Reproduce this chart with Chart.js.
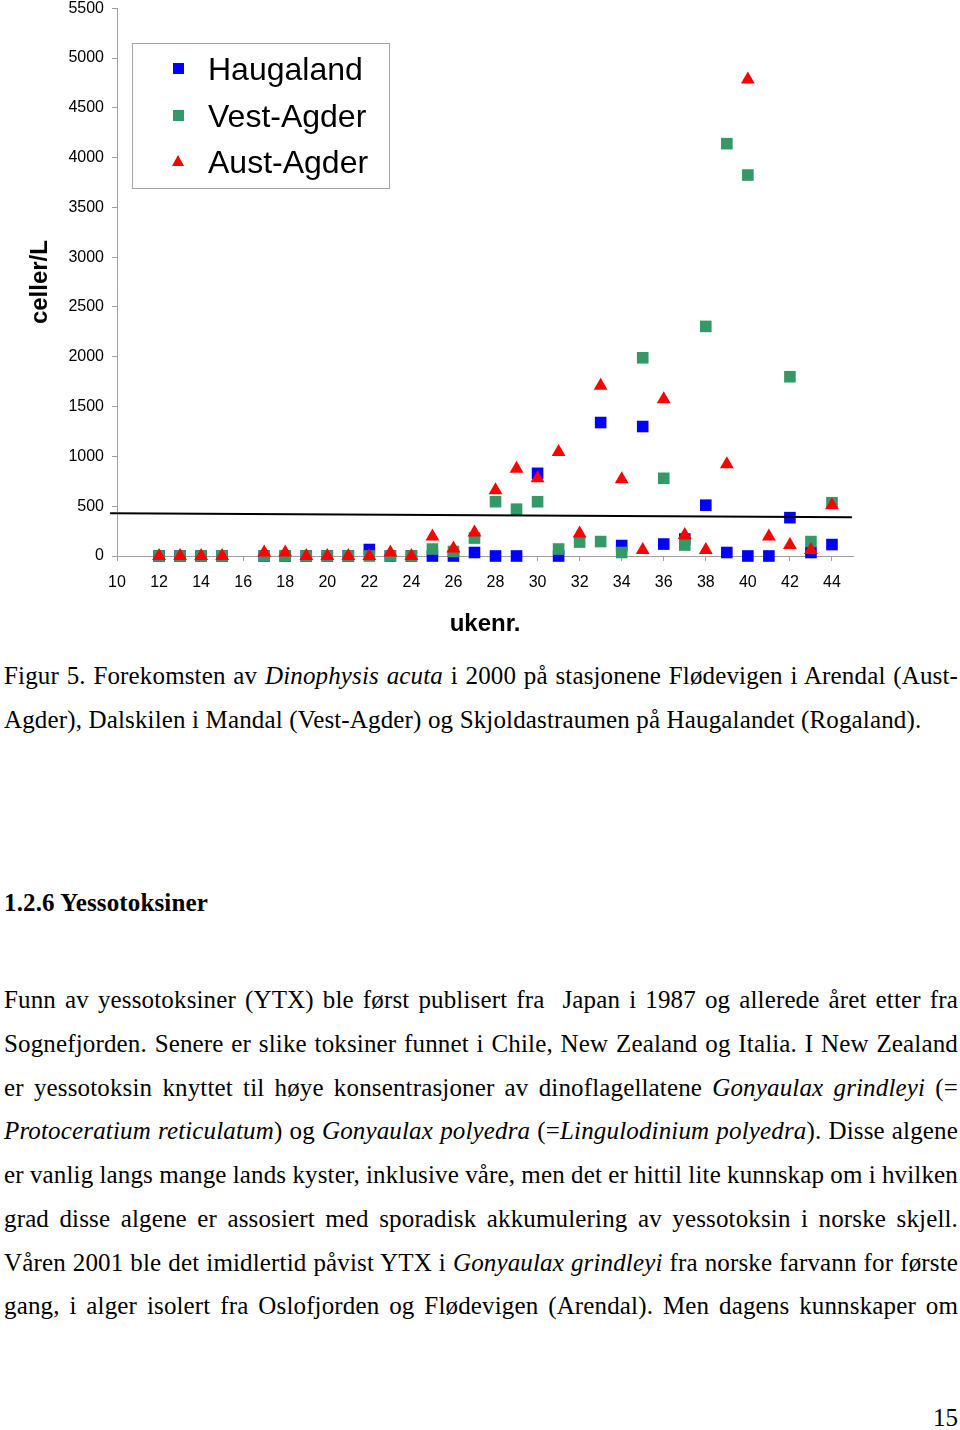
<!DOCTYPE html>
<html>
<head>
<meta charset="utf-8">
<script src="https://cdn.jsdelivr.net/npm/chart.js@4.4.1/dist/chart.umd.min.js"></script>
<style>
  body { margin: 0; background: #fff; width: 960px; height: 1430px; position: relative; overflow: hidden; }
  #chart-wrap { position: absolute; left: 0; top: 0; width: 960px; height: 645px; }
  .legend { position: absolute; left: 132px; top: 43px; width: 256px; height: 144px; border: 1px solid #a6a6a6;
            font-family: "Liberation Sans", Arial, sans-serif; font-size: 32px; color: #000; }
  .legend .row { position: absolute; left: 0; height: 40px; line-height: 40px; }
  .legend .row span { position: absolute; left: 75px; white-space: nowrap; }
  .mk-sq { position: absolute; left: 40px; top: 14px; width: 11px; height: 11px; }
  .mk-tri { position: absolute; left: 39px; top: 13px; width: 0; height: 0;
            border-left: 6px solid transparent; border-right: 6px solid transparent; border-bottom: 11px solid #ff0000; }
  .txt { position: absolute; left: 4px; width: 954px; font-family: "Liberation Serif", "Times New Roman", serif;
         font-size: 25px; letter-spacing: 0.15px; color: #000; line-height: 43.75px; }
  .j { text-align: justify; text-align-last: justify; white-space: nowrap; word-spacing: -2px; }
  .l { white-space: nowrap; }
  .head { font-weight: bold; }
  .pnum { position: absolute; right: 2px; top: 1396px; font-family: "Liberation Serif", "Times New Roman", serif; font-size: 25px; line-height: 44px; }
</style>
</head>
<body>
<div id="chart-wrap">
  <canvas id="chart" width="960" height="645"></canvas>
  <div class="legend">
    <div class="row" style="top:5px"><div class="mk-sq" style="background:#0000ff"></div><span>Haugaland</span></div>
    <div class="row" style="top:52px"><div class="mk-sq" style="background:#339966"></div><span>Vest-Agder</span></div>
    <div class="row" style="top:98px"><div class="mk-tri"></div><span>Aust-Agder</span></div>
  </div>
</div>

<div class="txt" style="top:654px">
  <div class="j">Figur 5. Forekomsten av <i>Dinophysis acuta</i> i 2000 på stasjonene Flødevigen i Arendal (Aust-</div>
  <div class="l">Agder), Dalskilen i Mandal (Vest-Agder) og Skjoldastraumen på Haugalandet (Rogaland).</div>
</div>

<div class="txt head" style="top:881px">1.2.6 Yessotoksiner</div>

<div class="txt" style="top:978px">
  <div class="j">Funn av yessotoksiner (YTX) ble først publisert fra &nbsp;Japan i 1987 og allerede året etter fra</div>
  <div class="j">Sognefjorden. Senere er slike toksiner funnet i Chile, New Zealand og Italia. I New Zealand</div>
  <div class="j">er yessotoksin knyttet til høye konsentrasjoner av dinoflagellatene <i>Gonyaulax grindleyi</i> (=</div>
  <div class="j"><i>Protoceratium reticulatum</i>) og <i>Gonyaulax polyedra</i> (=<i>Lingulodinium polyedra</i>). Disse algene</div>
  <div class="j">er vanlig langs mange lands kyster, inklusive våre, men det er hittil lite kunnskap om i hvilken</div>
  <div class="j">grad disse algene er assosiert med sporadisk akkumulering av yessotoksin i norske skjell.</div>
  <div class="j">Våren 2001 ble det imidlertid påvist YTX i <i>Gonyaulax grindleyi</i> fra norske farvann for første</div>
  <div class="j">gang, i alger isolert fra Oslofjorden og Flødevigen (Arendal). Men dagens kunnskaper om</div>
</div>

<div class="pnum">15</div>

<script>
// week numbers (ukenr.) 12..44
const weeks = [12, 13, 14, 15, 16, 17, 18, 19, 20, 21, 22, 23, 24, 25, 26, 27, 28,
               29, 30, 31, 32, 33, 34, 35, 36, 37, 38, 39, 40, 41, 42, 43, 44];

// celler/L per station, null = no sample
const haugaland = [0, 0, 0, 0, null, 0, 0, 0, 0, 0, 65, 0, 0, 0, 0, 35, 0,
                   0, 830, 0, null, 1340, 105, 1300, 120, 170, 510, 35, 0, 0, 385, 35, 115];
const vestAgder = [0, 0, 0, 0, null, 0, 0, 0, 0, 0, 0, 0, 0, 70, 45, 180, 545,
                   470, 545, 70, 140, 145, 35, 1990, 780, 110, 2305, 4140, 3825, null, 1800, 145, 535];
const austAgder = [0, 0, 0, 0, null, 35, 35, 0, 0, 0, 0, 35, 0, 195, 75, 235, 660,
                   875, 780, 1045, 225, 1710, 770, 60, 1575, 210, 60, 920, 4785, 195, 110, 60, 510];

// the stray black line across the plot
const lineX = [9.67, 44.95];
const lineY = [430, 390];

const xTicksFrom = 10, xMax = 45, xStep = 2;
const yMax = 5500, yStep = 500;

function toPoints(vals) {
  const pts = [];
  weeks.forEach((w, i) => {
    if (vals[i] !== null) pts.push({ x: w, y: vals[i] });
  });
  return pts;
}

const axisGrey = '#a0a0a0';
const sans = '"Liberation Sans", Arial, sans-serif';

// lower "order" is drawn on top: Aust-Agder over Vest-Agder over Haugaland
new Chart(document.getElementById('chart'), {
  type: 'scatter',
  data: {
    datasets: [
      {
        label: 'Haugaland',
        data: toPoints(haugaland),
        order: 3,
        clip: false,
        pointStyle: 'rect',
        pointRadius: 8.2,
        backgroundColor: '#0000ff',
        borderColor: '#0000ff',
        borderWidth: 0
      },
      {
        label: 'Vest-Agder',
        data: toPoints(vestAgder),
        order: 2,
        clip: false,
        pointStyle: 'rect',
        pointRadius: 8.2,
        backgroundColor: '#339966',
        borderColor: '#339966',
        borderWidth: 0
      },
      {
        label: 'Aust-Agder',
        data: toPoints(austAgder),
        order: 1,
        clip: false,
        pointStyle: 'triangle',
        pointRadius: 8,
        backgroundColor: '#ff0000',
        borderColor: '#ff0000',
        borderWidth: 0
      },
      {
        label: 'line',
        data: lineX.map((x, i) => ({ x: x, y: lineY[i] })),
        order: 0,
        showLine: true,
        borderColor: '#000',
        borderWidth: 2,
        pointRadius: 0,
        clip: false
      }
    ]
  },
  options: {
    responsive: false,
    animation: false,
    layout: { padding: { top: 7, right: 107, left: 0, bottom: 0 } },
    plugins: { legend: { display: false }, tooltip: { enabled: false } },
    scales: {
      x: {
        type: 'linear',
        min: xTicksFrom,
        max: xMax,
        afterFit: s => { s.height = 89; },
        ticks: {
          stepSize: xStep,
          includeBounds: false,
          padding: 14,
          color: '#000',
          font: { family: sans, size: 16, lineHeight: 1 },
          callback: v => String(v)
        },
        grid: { drawOnChartArea: false, color: axisGrey, tickLength: 5 },
        border: { color: axisGrey },
        title: {
          display: true,
          text: 'ukenr.',
          color: '#000',
          font: { family: sans, size: 24, weight: 'bold', lineHeight: 1.2 },
          padding: { top: 0, bottom: 6 }
        }
      },
      y: {
        min: 0,
        max: yMax,
        afterFit: s => {
          s.width = 117;
          s.paddingTop = 0;
          s.paddingBottom = 0;
        },
        ticks: {
          stepSize: yStep,
          padding: 8,
          color: '#000',
          font: { family: sans, size: 16, lineHeight: 0.8 },
          callback: v => String(v)
        },
        grid: { drawOnChartArea: false, color: axisGrey, tickLength: 5 },
        border: { color: axisGrey },
        title: {
          display: true,
          text: 'celler/L',
          color: '#000',
          font: { family: sans, size: 24, weight: 'bold', lineHeight: 1.2 },
          padding: { top: 26, bottom: 0 }
        }
      }
    }
  }
});
</script>
</body>
</html>
